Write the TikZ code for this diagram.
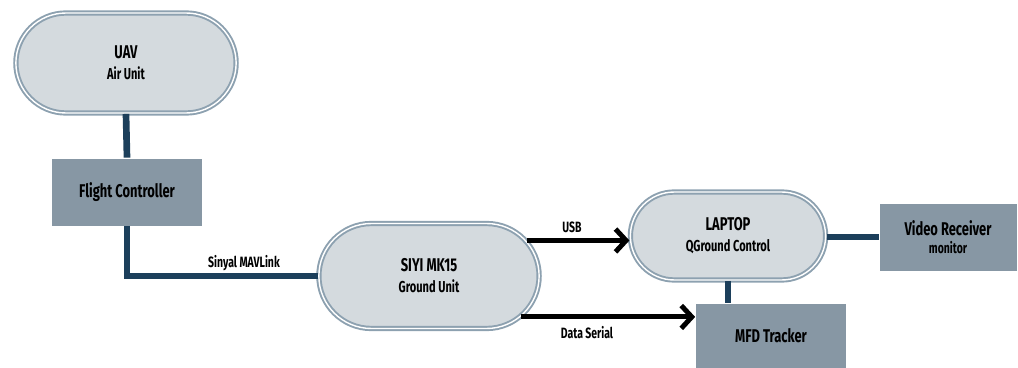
\documentclass[tikz,border=0pt]{standalone}
\usepackage{fontspec}
\setmainfont{Fira Sans}[FakeStretch=0.7]
\usetikzlibrary{calc,shapes.misc,arrows.meta}
\definecolor{pillfill}{HTML}{D4DADE}
\definecolor{pillline}{HTML}{8DA1B0}
\definecolor{boxfill}{HTML}{8797A4}
\definecolor{linkline}{HTML}{1C3F5B}
\tikzset{
	pill/.style={rounded rectangle, fill=pillfill, draw=pillline, line width=1.1pt, double=white, double distance=0.8pt, align=center, font=\bfseries},
	unitbox/.style={rectangle, fill=boxfill, draw=white, line width=0.4pt, align=center, font=\bfseries},
	link/.style={line width=3.8pt, color=linkline},
	flow/.style={line width=2.8pt, -{Straight Barb[length=6pt, width=13pt, line width=2.8pt]}},
	tag/.style={font=\bfseries\fontsize{8.5}{10}\selectfont}
}
\begin{document}
\begin{tikzpicture}[x=0.02cm, y=-0.02cm]
		%%%%% START %%%%%
		
		\useasboundingbox (0, 0) rectangle (1018, 368);
		
		\node[pill, minimum width=4.64cm, minimum height=2cm] (uav) at (126, 63) {\fontsize{10.5}{12}\selectfont UAV\\\fontsize{9}{11}\selectfont Air Unit};
		\node[unitbox, minimum width=3.02cm, minimum height=1.36cm] (fc) at (127, 192) {\fontsize{10.5}{12}\selectfont Flight Controller};
		
		\node[pill, minimum width=4.64cm, minimum height=2.1cm] (siyi) at (429, 276) {\fontsize{10.5}{12}\selectfont SIYI MK15\\\fontsize{9}{11}\selectfont Ground Unit};
		\node[pill, minimum width=4.14cm, minimum height=1.76cm] (laptop) at (728, 236) {\fontsize{10.5}{12}\selectfont LAPTOP\\\fontsize{9}{11}\selectfont QGround Control};
		
		\node[unitbox, minimum width=2.76cm, minimum height=1.36cm] (video) at (948, 237) {\fontsize{10.5}{12}\selectfont Video Receiver\\[-2pt]\fontsize{8.5}{10}\selectfont monitor};
		\node[unitbox, minimum width=3.02cm, minimum height=1.3cm] (mfd) at (771, 336) {\fontsize{10.5}{12}\selectfont MFD Tracker};
		
		\draw[link] (uav.south) -- (fc.north);
		\draw[link] (fc.south) |- (siyi.west);
		\node[tag] (mavtag) at (244, 263) {Sinyal MAVLink};
		
		\draw[link] (laptop.east |- video.west) -- (video.west);
		\draw[link] (laptop.south) -- (laptop.south |- mfd.north);
		
		\draw[flow] (siyi.20) -- (siyi.20 -| laptop.west);
		\node[tag] (usbtag) at (572, 227) {USB};
		\draw[flow] (siyi.-24) -- (siyi.-24 -| mfd.west);
		\node[tag] (serialtag) at (587, 333) {Data Serial};
		
		%%%%% END %%%%%
	\end{tikzpicture}
\end{document}
